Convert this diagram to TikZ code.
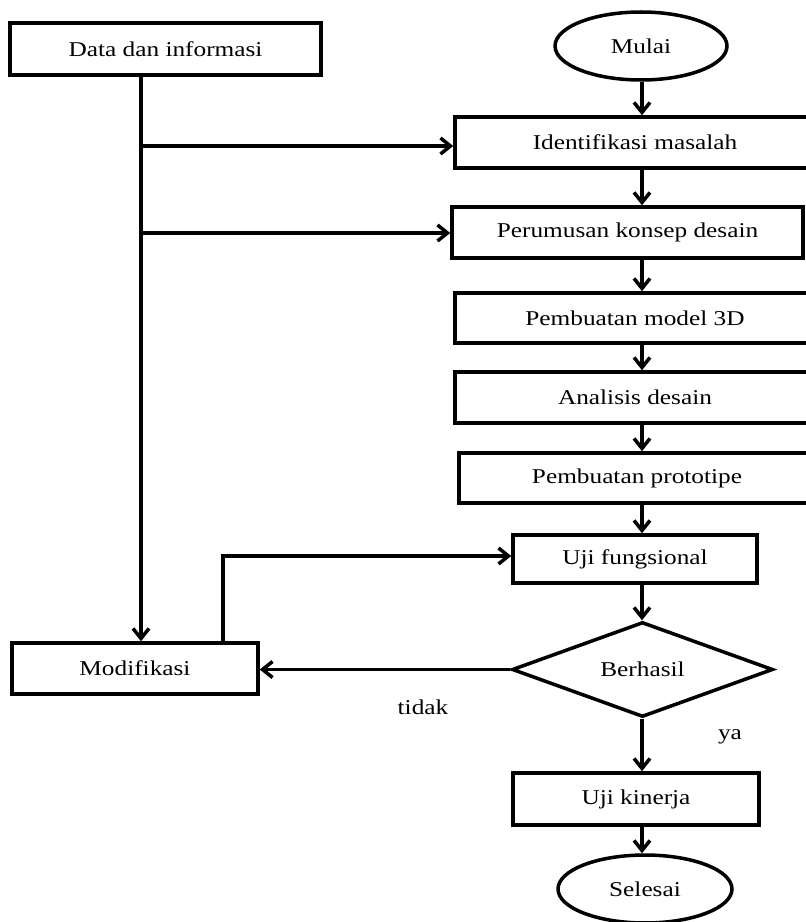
\documentclass[tikz,border=0pt]{standalone}
\usepackage{fontspec}
\setmainfont{Liberation Serif}[FakeStretch=1.2]
\usetikzlibrary{arrows.meta,shapes.geometric}

\begin{document}
\begin{tikzpicture}[x=0.02cm,y=-0.02cm]
\useasboundingbox (0,0) rectangle (805,922);

\begin{scope}[every node/.style={draw,line width=2pt,inner sep=2pt,
                                 font=\fontsize{12}{14}\selectfont}]
    \node[minimum width=6.22cm,minimum height=1.04cm] (data) at (165.5,49) {Data dan informasi};
    \node[ellipse,minimum width=3.44cm,minimum height=1.36cm] (mulai) at (641,46) {Mulai};
    \node[minimum width=7.2cm,minimum height=1.02cm] (ident) at (635,142.5) {Identifikasi masalah};
    \node[minimum width=7.02cm,minimum height=1.02cm] (perum) at (627.5,232.5) {Perumusan konsep desain};
    \node[minimum width=7.2cm,minimum height=1cm] (model) at (635,318) {Pembuatan model 3D};
    \node[minimum width=7.2cm,minimum height=1.02cm] (analisis) at (635,397.5) {Analisis desain};
    \node[minimum width=7.12cm,minimum height=1cm] (proto) at (637,478) {Pembuatan prototipe};
    \node[minimum width=4.88cm,minimum height=0.96cm] (ujif) at (635,559) {Uji fungsional};
    \node[diamond,aspect=2.75,inner sep=0pt,minimum width=5.22cm,minimum height=1.9cm] (berhasil) at (642.5,669.5) {Berhasil};
    \node[minimum width=4.92cm,minimum height=1.02cm] (modif) at (135,668.5) {Modifikasi};
    \node[minimum width=4.92cm,minimum height=1.04cm] (ujik) at (636,799) {Uji kinerja};
    \node[ellipse,minimum width=3.48cm,minimum height=1.36cm] (selesai) at (645,889) {Selesai};
\end{scope}

\begin{scope}[every node/.style={font=\fontsize{12}{14}\selectfont}]
    \node (tidak) at (423,707) {tidak};
    \node (ya) at (730,737) {ya};
\end{scope}

\begin{scope}[>={Straight Barb[length=2mm,width=3.2mm]},line width=2pt]
    \coordinate (axis) at (642,0);
    \coordinate (trunk) at (141,0);
    \coordinate (tap1) at (141,146);
    \coordinate (tap2) at (141,233);
    \coordinate (loop) at (223,556);
    \foreach \a/\b in {mulai/ident,ident/perum,perum/model,model/analisis,
                       analisis/proto,proto/ujif,ujif/berhasil,berhasil/ujik,ujik/selesai}
        \draw [->] (axis |- \a.south) -- (axis |- \b.north);
    \draw [->] (trunk |- data.south) -- (trunk |- modif.north);
    \draw [->] (tap1) -- (tap1 -| ident.west);
    \draw [->] (tap2) -- (tap2 -| perum.west);
    \draw [->] (berhasil.west) -- (berhasil.west -| modif.east);
    \draw [->] (loop |- modif.north) -- (loop) -- (loop -| ujif.west);
\end{scope}
\end{tikzpicture}
\end{document}
